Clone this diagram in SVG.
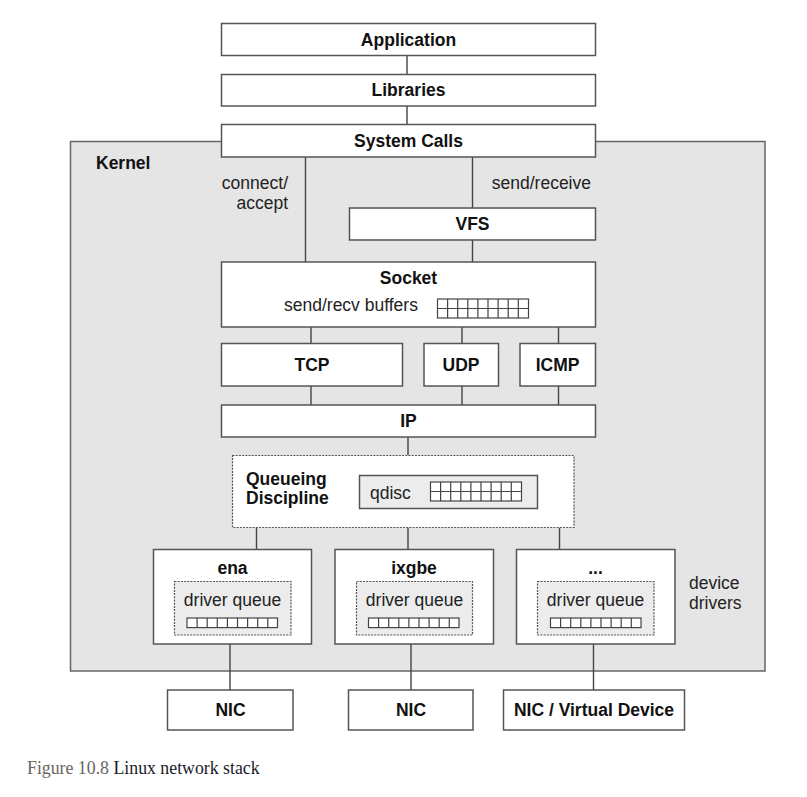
<svg xmlns="http://www.w3.org/2000/svg" xmlns:xlink="http://www.w3.org/1999/xlink" width="807" height="797" viewBox="0 0 807 797">
<style>
.box{fill:#fff;stroke:#555;stroke-width:1.5}
.kern{fill:#e5e5e5;stroke:#666;stroke-width:1.5}
.dot{fill:#fff;stroke:#555;stroke-width:1.2;stroke-dasharray:2 1.2}
.dotg{fill:#ececec;stroke:#555;stroke-width:1.2;stroke-dasharray:2 1.2}
.qd{fill:#ececec;stroke:#555;stroke-width:1.5}
.b{font-family:"Liberation Sans",Arial,sans-serif;font-weight:bold;font-size:17.5px;fill:#111;text-anchor:middle;dominant-baseline:central}
.r{font-family:"Liberation Sans",Arial,sans-serif;font-size:17.5px;fill:#222;dominant-baseline:central}
.conn line{stroke:#444;stroke-width:1.4}
.grid{fill:#fff;stroke:#444;stroke-width:1.2}
</style>
<defs>
<symbol id="g2" viewBox="0 0 92 20" width="92" height="20" overflow="visible">
<rect class="grid" x="0.5" y="0.5" width="91" height="19"/>
<path d="M10.6 0.5V19.5M20.7 0.5V19.5M30.8 0.5V19.5M40.9 0.5V19.5M51 0.5V19.5M61.1 0.5V19.5M71.2 0.5V19.5M81.3 0.5V19.5M0.5 10H91.5" stroke="#444" stroke-width="1.2" fill="none"/>
</symbol>
<symbol id="g1" viewBox="0 0 92 11" width="92" height="11" overflow="visible">
<rect class="grid" x="0.5" y="0.5" width="90.5" height="9.6"/>
<path d="M10.6 0.5V10.1M20.7 0.5V10.1M30.8 0.5V10.1M40.9 0.5V10.1M51 0.5V10.1M61.1 0.5V10.1M71.2 0.5V10.1M81.3 0.5V10.1" stroke="#444" stroke-width="1.2" fill="none"/>
</symbol>
</defs>

<rect width="807" height="797" fill="#fff"/>

<g id="kernel">
<rect class="kern" x="70.5" y="141.5" width="694.5" height="529.5"/>
<text class="b" x="96" y="163" style="text-anchor:start">Kernel</text>
<text class="r" x="288" y="183" style="text-anchor:end">connect/</text>
<text class="r" x="288" y="203" style="text-anchor:end">accept</text>
<text class="r" x="591" y="182.5" style="text-anchor:end">send/receive</text>
<text class="r" x="689" y="582.5">device</text>
<text class="r" x="689" y="602.5">drivers</text>
</g>

<g class="conn" id="connectors">
<line x1="407" y1="55.7" x2="407" y2="74.3"/>
<line x1="407" y1="106" x2="407" y2="124.3"/>
<line x1="305.5" y1="157" x2="305.5" y2="262"/>
<line x1="472.5" y1="157" x2="472.5" y2="208"/>
<line x1="472.5" y1="240" x2="472.5" y2="262"/>
<line x1="311" y1="327" x2="311" y2="343.5"/>
<line x1="462" y1="327" x2="462" y2="343.5"/>
<line x1="558.5" y1="327" x2="558.5" y2="343.5"/>
<line x1="311" y1="386" x2="311" y2="405"/>
<line x1="462" y1="386" x2="462" y2="405"/>
<line x1="558.5" y1="386" x2="558.5" y2="405"/>
<line x1="408" y1="437" x2="408" y2="455"/>
<line x1="256.5" y1="527.5" x2="256.5" y2="549.5"/>
<line x1="408" y1="527.5" x2="408" y2="549.5"/>
<line x1="559.5" y1="527.5" x2="559.5" y2="549.5"/>
<line x1="230" y1="644" x2="230" y2="690"/>
<line x1="411" y1="644" x2="411" y2="690"/>
<line x1="593.5" y1="644" x2="593.5" y2="690"/>
</g>

<g id="application">
<rect class="box" x="221.5" y="23.5" width="374" height="32"/>
<text class="b" x="408.5" y="39.5">Application</text>
</g>
<g id="libraries">
<rect class="box" x="221.5" y="74.5" width="374" height="31.5"/>
<text class="b" x="408.5" y="90">Libraries</text>
</g>
<g id="syscalls">
<rect class="box" x="221.5" y="124.5" width="374" height="32.5"/>
<text class="b" x="408.5" y="141">System Calls</text>
</g>
<g id="vfs">
<rect class="box" x="349.5" y="208" width="246" height="32"/>
<text class="b" x="472.5" y="224">VFS</text>
</g>
<g id="socket">
<rect class="box" x="221.5" y="262" width="374" height="65"/>
<text class="b" x="408.5" y="278">Socket</text>
<text class="r" x="284" y="305">send/recv buffers</text>
<use xlink:href="#g2" x="437" y="298.5"/>
</g>
<g id="tcp">
<rect class="box" x="221.5" y="343.5" width="181" height="42.5"/>
<text class="b" x="312" y="365">TCP</text>
</g>
<g id="udp">
<rect class="box" x="424" y="343.5" width="74.5" height="42.5"/>
<text class="b" x="461" y="365">UDP</text>
</g>
<g id="icmp">
<rect class="box" x="520" y="343.5" width="75.5" height="42.5"/>
<text class="b" x="557.5" y="365">ICMP</text>
</g>
<g id="ip">
<rect class="box" x="221.5" y="405" width="374" height="32"/>
<text class="b" x="408.5" y="421">IP</text>
</g>
<g id="qdisc">
<rect class="dot" x="232.5" y="455.5" width="341.5" height="72"/>
<text class="b" x="246" y="479" style="text-anchor:start">Queueing</text>
<text class="b" x="246" y="498" style="text-anchor:start">Discipline</text>
<rect class="qd" x="359.5" y="475.5" width="178" height="33"/>
<text class="r" x="370" y="492.5">qdisc</text>
<use xlink:href="#g2" x="430" y="481.5"/>
</g>
<g id="ena">
<rect class="box" x="153.5" y="549.5" width="158" height="94.5"/>
<text class="b" x="232.5" y="568">ena</text>
<rect class="dotg" x="174.5" y="581.5" width="116.5" height="53.5"/>
<text class="r" x="232.5" y="599.5" style="text-anchor:middle">driver queue</text>
<use xlink:href="#g1" x="186.5" y="617.5"/>
</g>
<g id="ixgbe">
<rect class="box" x="335" y="549.5" width="158.5" height="94.5"/>
<text class="b" x="414" y="568">ixgbe</text>
<rect class="dotg" x="356.5" y="581.5" width="116" height="53.5"/>
<text class="r" x="414.5" y="599.5" style="text-anchor:middle">driver queue</text>
<use xlink:href="#g1" x="368" y="617.5"/>
</g>
<g id="other-driver">
<rect class="box" x="516.5" y="549.5" width="158.5" height="94.5"/>
<text class="b" x="595.5" y="568">...</text>
<rect class="dotg" x="537.5" y="581.5" width="116.5" height="53.5"/>
<text class="r" x="595.5" y="599.5" style="text-anchor:middle">driver queue</text>
<use xlink:href="#g1" x="550" y="617.5"/>
</g>
<g id="nic1">
<rect class="box" x="167.5" y="690" width="125.5" height="40"/>
<text class="b" x="230.5" y="710">NIC</text>
</g>
<g id="nic2">
<rect class="box" x="348.5" y="690" width="124.5" height="40"/>
<text class="b" x="411" y="710">NIC</text>
</g>
<g id="nic3">
<rect class="box" x="503.5" y="690" width="181" height="40"/>
<text class="b" x="594" y="710">NIC / Virtual Device</text>
</g>

<text x="27" y="774" font-family="'Liberation Serif','DejaVu Serif',serif" font-size="17.8"><tspan fill="#6a6560">Figure 10.8</tspan><tspan fill="#1a1a2a"> Linux network stack</tspan></text>
</svg>
